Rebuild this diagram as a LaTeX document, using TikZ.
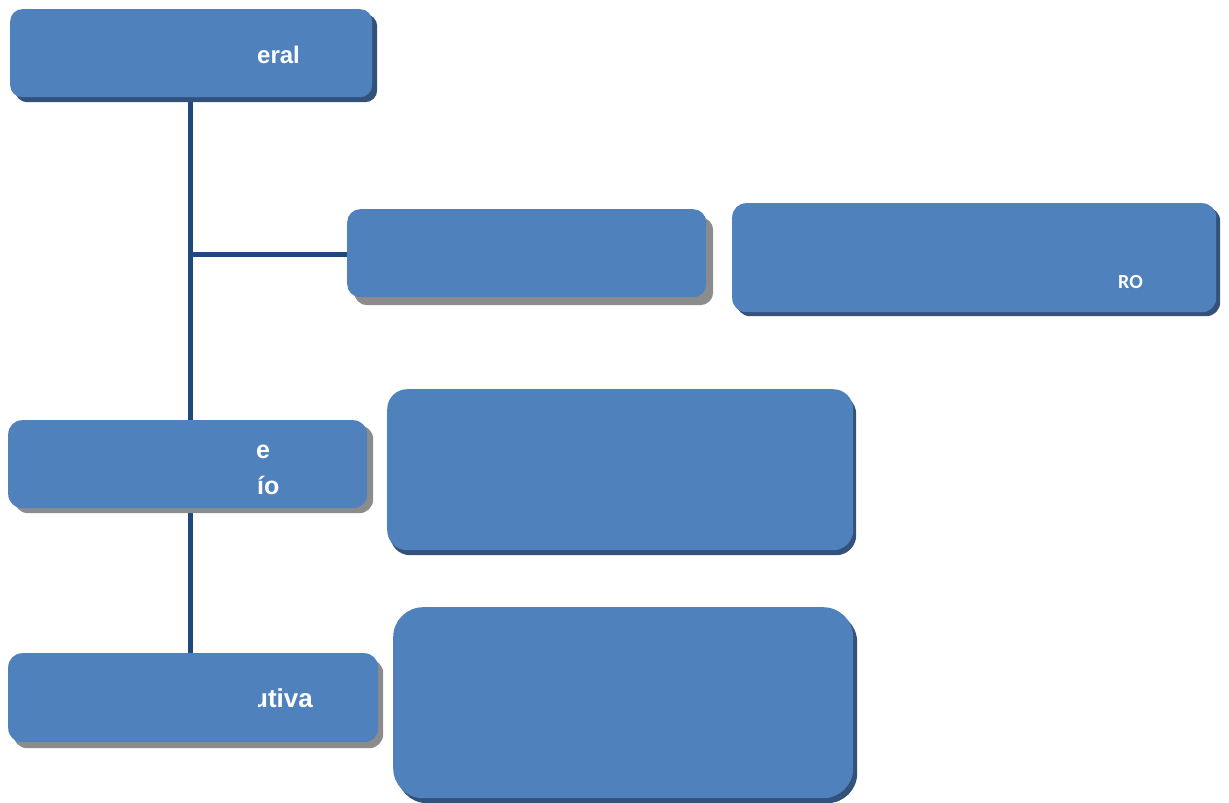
\documentclass[tikz,border=0pt]{standalone}
\usepackage{fontspec}
\setmainfont{Liberation Sans}
\newfontfamily\calibrilike{Carlito}
\usetikzlibrary{shadows}
\definecolor{boxblue}{HTML}{4F81BD}
\definecolor{linkblue}{HTML}{1F497D}
\definecolor{shadedark}{HTML}{34517A}
\definecolor{shadegray}{HTML}{8C8C8C}
\tikzset{
  unit/.style={draw=none, fill=boxblue, anchor=north west, inner sep=0pt,
    minimum width=#1},
  darkshade/.style 2 args={general shadow={fill=shadedark, shadow xshift=#1pt, shadow yshift=-#2pt}},
  grayshade/.style 2 args={general shadow={fill=shadegray, shadow xshift=#1pt, shadow yshift=-#2pt}},
  link/.style={draw=linkblue, line width=5pt},
  label/.style={text=white, font=\bfseries\fontsize{24}{28}\selectfont, anchor=base west, inner sep=0pt},
}
\begin{document}
\begin{tikzpicture}[x=1pt, y=-1pt]
\useasboundingbox (0,0) rectangle (1229,803);

% spine of the chart
\coordinate (spinetop) at (190,97);
\coordinate (spinebot) at (190,653);
\coordinate (branch) at (190,254.5);
\draw[link] (spinetop) -- (spinebot);

% boxes
\node[unit=362pt, minimum height=88pt, rounded corners=12pt, darkshade={5}{5}] (general) at (10,9) {};
\node[unit=359pt, minimum height=88pt, rounded corners=13pt, grayshade={7}{8}] (staff) at (347,209) {};
\node[unit=484pt, minimum height=109pt, rounded corners=14pt, darkshade={4}{4}] (side) at (732,203) {};
\node[unit=359pt, minimum height=88pt, rounded corners=14pt, grayshade={6}{5}] (council) at (8,420) {};
\node[unit=466pt, minimum height=161pt, rounded corners=20pt, darkshade={3}{5}] (councilnote) at (387,389) {};
\node[unit=370pt, minimum height=89pt, rounded corners=14pt, grayshade={5}{6}] (exec) at (8,653) {};
\node[unit=460pt, minimum height=191pt, rounded corners=30pt, darkshade={4}{5}] (execnote) at (393,607) {};

% branch to the staff box
\draw[link] (branch) -- (staff.west |- branch);

% texts
\node[label] (generaltxt) at (257,63) {eral};
\node[label, font=\calibrilike\bfseries\fontsize{20}{24}\selectfont] (sidetxt) at (1118,288) {RO};
\node[label, font=\bfseries\fontsize{25}{29}\selectfont] (counciltxt1) at (256,458) {e};
\node[label, font=\bfseries\fontsize{25}{29}\selectfont] (counciltxt2) at (257,494) {ío};
\begin{scope}
  \clip (258,670) rectangle (360,720);
  \node[label, font=\bfseries\fontsize{26}{30}\selectfont] (exectxt) at (252,707) {utiva};
\end{scope}
\end{tikzpicture}
\end{document}
